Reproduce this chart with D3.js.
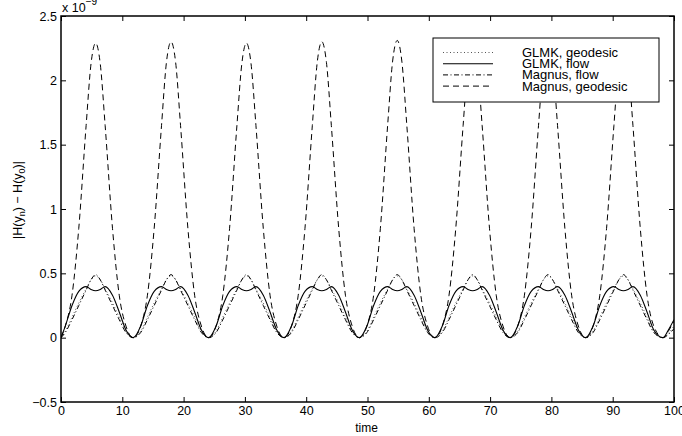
<!DOCTYPE html>
<html>
<head>
<meta charset="utf-8">
<script src="https://cdn.jsdelivr.net/npm/d3@7"></script>
<style>
  body { margin: 0; background: #fff; }
  svg { display: block; }
  text { font-family: "Liberation Sans", Arial, sans-serif; fill: #000; }
</style>
</head>
<body>
<svg id="chart"></svg>
<script>
// sample times (shared by all four series)
const time = [
  0, 0.7, 1.8, 2.9, 4.1, 4.9, 5.65, 6.4, 7.2, 8.4, 9.5, 10.6,
  11.8, 13.0, 14.1, 15.2, 16.4, 17.2, 17.95, 18.7, 19.5, 20.7, 21.8, 22.9,
  24.1, 25.3, 26.4, 27.5, 28.7, 29.5, 30.25, 31.0, 31.8, 33.0, 34.1, 35.2,
  36.4, 37.6, 38.7, 39.8, 41.0, 41.8, 42.55, 43.3, 44.1, 45.3, 46.4, 47.5,
  48.7, 49.9, 51.0, 52.1, 53.3, 54.1, 54.85, 55.6, 56.4, 57.6, 58.7, 59.8,
  61.0, 62.2, 63.3, 64.4, 65.6, 66.4, 67.15, 67.9, 68.7, 69.9, 71.0, 72.1,
  73.3, 74.5, 75.6, 76.7, 77.9, 78.7, 79.45, 80.2, 81.0, 82.2, 83.3, 84.4,
  85.6, 86.8, 87.9, 89.0, 90.2, 91.0, 91.75, 92.5, 93.3, 94.5, 95.6, 96.7,
  98.2, 99.2, 100
];

// GLMK, geodesic (dotted)
const glmkGeodesic = [
  0, 0.05, 0.16, 0.27, 0.38, 0.45, 0.48, 0.45, 0.38, 0.27, 0.16, 0.05,
  0, 0.05, 0.16, 0.27, 0.38, 0.45, 0.48, 0.45, 0.38, 0.27, 0.16, 0.05,
  0, 0.05, 0.16, 0.27, 0.38, 0.45, 0.48, 0.45, 0.38, 0.27, 0.16, 0.05,
  0, 0.05, 0.16, 0.27, 0.38, 0.45, 0.48, 0.45, 0.38, 0.27, 0.16, 0.05,
  0, 0.05, 0.16, 0.27, 0.38, 0.45, 0.48, 0.45, 0.38, 0.27, 0.16, 0.05,
  0, 0.05, 0.16, 0.27, 0.38, 0.45, 0.48, 0.45, 0.38, 0.27, 0.16, 0.05,
  0, 0.05, 0.16, 0.27, 0.38, 0.45, 0.48, 0.45, 0.38, 0.27, 0.16, 0.05,
  0, 0.05, 0.16, 0.27, 0.38, 0.45, 0.48, 0.45, 0.38, 0.27, 0.16, 0.05,
  0, 0.04, 0.09
];

// GLMK, flow (solid)
const glmkFlow = [
  0, 0.09, 0.25, 0.36, 0.397, 0.375, 0.365, 0.375, 0.397, 0.33, 0.2, 0.06,
  0, 0.09, 0.25, 0.36, 0.397, 0.375, 0.365, 0.375, 0.397, 0.33, 0.2, 0.06,
  0, 0.09, 0.25, 0.36, 0.397, 0.375, 0.365, 0.375, 0.397, 0.33, 0.2, 0.06,
  0, 0.09, 0.25, 0.36, 0.397, 0.375, 0.365, 0.375, 0.397, 0.33, 0.2, 0.06,
  0, 0.09, 0.25, 0.36, 0.397, 0.375, 0.365, 0.375, 0.397, 0.33, 0.2, 0.06,
  0, 0.09, 0.25, 0.36, 0.397, 0.375, 0.365, 0.375, 0.397, 0.33, 0.2, 0.06,
  0, 0.09, 0.25, 0.36, 0.397, 0.375, 0.365, 0.375, 0.397, 0.33, 0.2, 0.06,
  0, 0.09, 0.25, 0.36, 0.397, 0.375, 0.365, 0.375, 0.397, 0.33, 0.2, 0.06,
  0, 0.07, 0.14
];

// Magnus, flow (dash-dot)
const magnusFlow = [
  0, 0.04, 0.14, 0.25, 0.37, 0.45, 0.49, 0.45, 0.37, 0.25, 0.14, 0.04,
  0, 0.04, 0.14, 0.25, 0.37, 0.45, 0.49, 0.45, 0.37, 0.25, 0.14, 0.04,
  0, 0.04, 0.14, 0.25, 0.37, 0.45, 0.49, 0.45, 0.37, 0.25, 0.14, 0.04,
  0, 0.04, 0.14, 0.25, 0.37, 0.45, 0.49, 0.45, 0.37, 0.25, 0.14, 0.04,
  0, 0.04, 0.14, 0.25, 0.37, 0.45, 0.49, 0.45, 0.37, 0.25, 0.14, 0.04,
  0, 0.04, 0.14, 0.25, 0.37, 0.45, 0.49, 0.45, 0.37, 0.25, 0.14, 0.04,
  0, 0.04, 0.14, 0.25, 0.37, 0.45, 0.49, 0.45, 0.37, 0.25, 0.14, 0.04,
  0, 0.04, 0.14, 0.25, 0.37, 0.45, 0.49, 0.45, 0.37, 0.25, 0.14, 0.04,
  0, 0.03, 0.07
];

// Magnus, geodesic (dashed)
const magnusGeodesic = [
  0, 0.09, 0.33, 0.85, 1.65, 2.13, 2.29, 2.13, 1.65, 0.85, 0.33, 0.09,
  0, 0.09, 0.33, 0.85, 1.65, 2.14, 2.30, 2.14, 1.65, 0.85, 0.33, 0.09,
  0, 0.09, 0.33, 0.85, 1.65, 2.13, 2.29, 2.13, 1.65, 0.85, 0.33, 0.09,
  0, 0.09, 0.33, 0.85, 1.65, 2.14, 2.30, 2.14, 1.65, 0.85, 0.33, 0.09,
  0, 0.09, 0.33, 0.85, 1.66, 2.15, 2.31, 2.15, 1.66, 0.85, 0.33, 0.09,
  0, 0.09, 0.33, 0.85, 1.65, 2.14, 2.30, 2.14, 1.65, 0.85, 0.33, 0.09,
  0, 0.09, 0.33, 0.85, 1.65, 2.14, 2.30, 2.14, 1.65, 0.85, 0.33, 0.09,
  0, 0.09, 0.33, 0.85, 1.65, 2.14, 2.30, 2.14, 1.65, 0.85, 0.33, 0.09,
  0, 0.06, 0.13
];

const xTicks = [0, 10, 20, 30, 40, 50, 60, 70, 80, 90, 100];
const yTicks = [-0.5, 0, 0.5, 1, 1.5, 2, 2.5];
const yTickLabels = ["\u22120.5", "0", "0.5", "1", "1.5", "2", "2.5"];

const w = 682, h = 436;
const padLeft = 61, padRight = 674, padTop = 16, padBottom = 402;

const svg = d3.select("#chart").attr("width", w).attr("height", h);

const xScale = d3.scaleLinear().domain([0, 100]).range([padLeft, padRight]);
const yScale = d3.scaleLinear().domain([-0.5, 2.5]).range([padBottom, padTop]);

svg.append("defs").append("clipPath").attr("id", "plotClip")
   .append("rect").attr("x", padLeft).attr("y", padTop)
   .attr("width", padRight - padLeft).attr("height", padBottom - padTop);

const series = [
  {name: "GLMK, geodesic", values: glmkGeodesic, dash: "1,2.5", width: 1, color: "#555"},
  {name: "GLMK, flow", values: glmkFlow, dash: null, width: 1.1, color: "#000"},
  {name: "Magnus, flow", values: magnusFlow, dash: "5,2.5,1,2.5", width: 1, color: "#000"},
  {name: "Magnus, geodesic", values: magnusGeodesic, dash: "6,4", width: 1, color: "#000"}
];

const line = d3.line()
  .x((d, i) => xScale(time[i]))
  .y(d => yScale(d))
  .curve(d3.curveMonotoneX);

const plot = svg.append("g").attr("clip-path", "url(#plotClip)");
series.forEach(s => {
  plot.append("path")
      .attr("d", line(s.values))
      .attr("fill", "none")
      .attr("stroke", s.color)
      .attr("stroke-width", s.width)
      .attr("stroke-dasharray", s.dash);
});

// axes, matlab style: ticks inside on all four sides
const fmtY = d => yTickLabels[yTicks.indexOf(d)];
svg.append("g").attr("transform", `translate(0,${padBottom})`)
   .call(d3.axisBottom(xScale).tickValues(xTicks).tickSizeInner(-5).tickSizeOuter(0).tickPadding(4))
   .call(g => g.select(".domain").remove());
svg.append("g").attr("transform", `translate(0,${padTop})`)
   .call(d3.axisTop(xScale).tickValues(xTicks).tickSizeInner(-5).tickSizeOuter(0).tickFormat(""))
   .call(g => g.select(".domain").remove());
svg.append("g").attr("transform", `translate(${padLeft},0)`)
   .call(d3.axisLeft(yScale).tickValues(yTicks).tickFormat(fmtY).tickSizeInner(-5).tickSizeOuter(0).tickPadding(4))
   .call(g => g.select(".domain").remove());
svg.append("g").attr("transform", `translate(${padRight},0)`)
   .call(d3.axisRight(yScale).tickValues(yTicks).tickSizeInner(-5).tickSizeOuter(0).tickFormat(""))
   .call(g => g.select(".domain").remove());

svg.selectAll(".tick line").attr("stroke", "#000").attr("stroke-width", 1);
svg.selectAll(".tick text").style("font-size", "12.5px").attr("fill", "#000")
   .style("font-family", "Liberation Sans, Arial, sans-serif");

svg.append("rect")
   .attr("x", padLeft).attr("y", padTop)
   .attr("width", padRight - padLeft).attr("height", padBottom - padTop)
   .attr("fill", "none").attr("stroke", "#000").attr("stroke-width", 1.5);

// exponent
const expo = svg.append("text").attr("x", padLeft + 1).attr("y", 12).style("font-size", "12.5px");
expo.append("tspan").text("x 10");
expo.append("tspan").attr("dy", -7).style("font-size", "10px").text("\u22129");

// axis labels
svg.append("text").attr("x", (padLeft + padRight) / 2 - 1).attr("y", 432)
   .attr("text-anchor", "middle").style("font-size", "12px").text("time");

const yl = svg.append("text")
   .attr("transform", `translate(22, 200) rotate(-90)`)
   .attr("text-anchor", "middle").style("font-size", "12.5px");
yl.append("tspan").text("|H(y");
yl.append("tspan").attr("dy", 3).style("font-size", "9px").text("n");
yl.append("tspan").attr("dy", -3).text(") \u2212 H(y");
yl.append("tspan").attr("dy", 3).style("font-size", "9px").text("0");
yl.append("tspan").attr("dy", -3).text(")|");

// legend
const legend = svg.append("g");
legend.append("rect").attr("x", 433).attr("y", 38).attr("width", 226).attr("height", 64)
   .attr("fill", "#fff").attr("stroke", "#000").attr("stroke-width", 1);
series.forEach((s, i) => {
  const yy = 52.5 + i * 11.2;
  legend.append("line").attr("x1", 443).attr("x2", 493).attr("y1", yy).attr("y2", yy)
     .attr("stroke", s.color).attr("stroke-width", s.width).attr("stroke-dasharray", s.dash);
  legend.append("text").attr("x", 522).attr("y", yy + 4.5).style("font-size", "13px").text(s.name);
});
</script>
</body>
</html>
